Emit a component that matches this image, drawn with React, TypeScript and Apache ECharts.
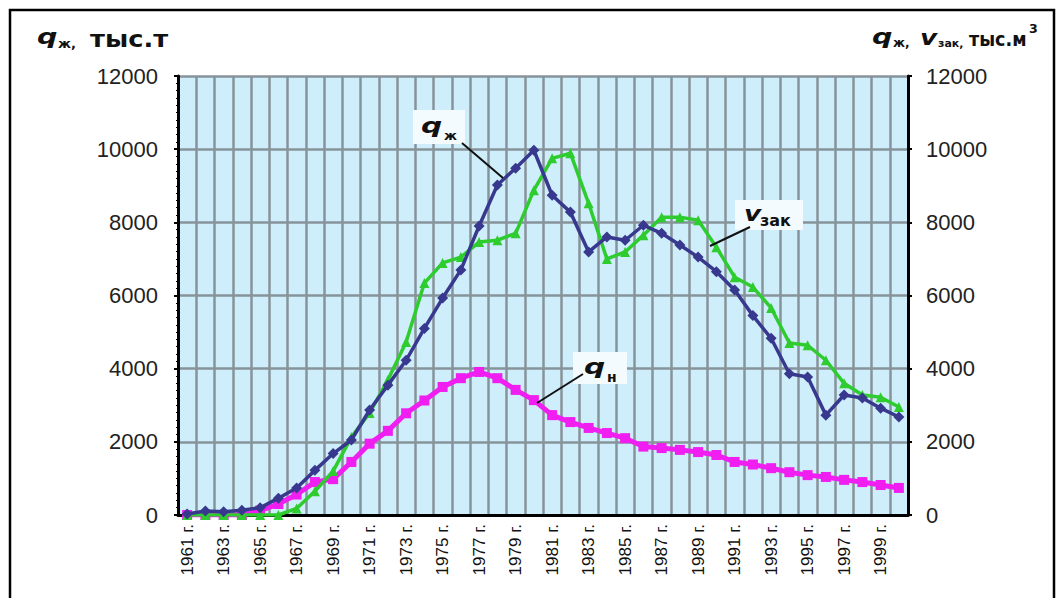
import React, { useEffect, useRef } from "react";
import * as echarts from "echarts";

// Years on the category axis
const years: string[] = [
  "1961 г.", "1962 г.", "1963 г.", "1964 г.", "1965 г.", "1966 г.", "1967 г.", "1968 г.",
  "1969 г.", "1970 г.", "1971 г.", "1972 г.", "1973 г.", "1974 г.", "1975 г.", "1976 г.",
  "1977 г.", "1978 г.", "1979 г.", "1980 г.", "1981 г.", "1982 г.", "1983 г.", "1984 г.",
  "1985 г.", "1986 г.", "1987 г.", "1988 г.", "1989 г.", "1990 г.", "1991 г.", "1992 г.",
  "1993 г.", "1994 г.", "1995 г.", "1996 г.", "1997 г.", "1998 г.", "1999 г.", "2000 г.",
];

// Liquid production, q_ж
const qZh: number[] = [
  30, 110, 90, 130, 200, 460, 740, 1220, 1680, 2050,
  2870, 3550, 4230, 5100, 5930, 6700, 7900, 9020, 9480, 9970,
  8740, 8280, 7190, 7600, 7510, 7920, 7700, 7380, 7050, 6650,
  6150, 5450, 4830, 3860, 3770, 2730, 3280, 3200, 2920, 2680,
];

// Water injection, v_зак
const vZak: number[] = [
  0, 0, 0, 0, 0, 0, 180, 650, 1200, 2130,
  2790, 3690, 4730, 6340, 6890, 7050, 7460, 7510, 7700, 8880,
  9750, 9890, 8520, 7000, 7190, 7650, 8140, 8140, 8060, 7320,
  6500, 6230, 5660, 4700, 4640, 4230, 3600, 3280, 3220, 2950,
];

// Oil production, q_н
const qN: number[] = [
  0, 0, 0, 0, 120, 300, 560, 900, 980, 1450,
  1950, 2300, 2780, 3130, 3500, 3740, 3910, 3740, 3420, 3140,
  2730, 2540, 2380, 2240, 2100, 1870, 1830, 1780, 1720, 1640,
  1450, 1380, 1280, 1170, 1090, 1040, 960, 900, 820, 740,
];

const yTicks = { min: 0, max: 12000, interval: 2000 };

const BLUE = "#38388e";
const GREEN = "#2ecc2e";
const MAGENTA = "#f01ef0";
const GRIDGRAY = "#87939a";
const AXIS_FONT = "Liberation Sans, Arial, sans-serif";
const TITLE_FONT = "DejaVu Sans, sans-serif";

type TxtOpts = { italic?: boolean; bold?: boolean; scaleX?: number };

// Text placed by its left edge and vertical centre
const txt = (x: number, y: number, text: string, size: number, o: TxtOpts = {}) => ({
  type: "text",
  x,
  y,
  scaleX: o.scaleX ?? 1,
  z: 100,
  style: {
    text,
    fill: "#111",
    fontSize: size,
    fontFamily: TITLE_FONT,
    fontWeight: o.bold === false ? "normal" : "bold",
    fontStyle: o.italic ? "italic" : "normal",
    align: "left",
    verticalAlign: "middle",
  },
});

const box = (x: number, y: number, w: number, h: number) => ({
  type: "rect",
  shape: { x, y, width: w, height: h },
  style: { fill: "#f4fbfe" },
  z: 90,
});

const leader = (x1: number, y1: number, x2: number, y2: number) => ({
  type: "line",
  shape: { x1, y1, x2, y2 },
  style: { stroke: "#111", lineWidth: 2 },
  z: 100,
});

function App() {
  const ref = useRef<HTMLDivElement>(null);

  useEffect(() => {
    if (!ref.current) return;
    const chart = echarts.init(ref.current, undefined, { renderer: "svg" });

    const yAxisBase = {
      type: "value" as const,
      min: yTicks.min,
      max: yTicks.max,
      interval: yTicks.interval,
      axisLine: { show: true, lineStyle: { color: "#000", width: 3 } },
      axisTick: { show: true, length: 4, lineStyle: { color: "#000", width: 2 } },
    };

    const option: echarts.EChartsOption = {
      animation: false,
      backgroundColor: "#ffffff",
      grid: {
        left: 178,
        right: 150,
        top: 76,
        bottom: 83,
        show: true,
        backgroundColor: "#cdeefa",
        borderWidth: 0,
      },
      xAxis: {
        type: "category",
        data: years,
        boundaryGap: true,
        axisLine: { lineStyle: { color: "#000", width: 3 } },
        axisTick: { show: false },
        splitLine: { show: true, interval: 0, lineStyle: { color: GRIDGRAY, width: 2.5 } },
        axisLabel: {
          interval: 1,
          rotate: 90,
          margin: 9,
          fontSize: 17,
          color: "#111",
          fontFamily: "Liberation Sans Narrow, Liberation Sans, Arial, sans-serif",
        },
      },
      yAxis: [
        {
          ...yAxisBase,
          position: "left",
          minorTick: { show: true, splitNumber: 10, length: 2, lineStyle: { color: "#000" } },
          splitLine: { show: true, lineStyle: { color: GRIDGRAY, width: 2.5 } },
          axisLabel: {
            margin: 20,
            fontSize: 22,
            color: "#222",
            fontFamily: AXIS_FONT,
            formatter: (v: number) => String(v),
          },
        },
        {
          ...yAxisBase,
          position: "right",
          splitLine: { show: false },
          axisLabel: {
            margin: 18,
            fontSize: 22,
            color: "#222",
            fontFamily: AXIS_FONT,
            formatter: (v: number) => String(v),
          },
        },
      ],
      series: [
        {
          name: "q_н",
          type: "line",
          data: qN,
          yAxisIndex: 0,
          symbol: "rect",
          symbolSize: 10,
          itemStyle: { color: MAGENTA },
          lineStyle: { color: MAGENTA, width: 5 },
          z: 3,
        },
        {
          name: "v_зак",
          type: "line",
          data: vZak,
          yAxisIndex: 1,
          symbol: "triangle",
          symbolSize: 10,
          itemStyle: { color: GREEN },
          lineStyle: { color: GREEN, width: 3.5 },
          z: 4,
        },
        {
          name: "q_ж",
          type: "line",
          data: qZh,
          yAxisIndex: 0,
          symbol: "diamond",
          symbolSize: 11,
          itemStyle: { color: BLUE },
          lineStyle: { color: BLUE, width: 3.5 },
          z: 5,
        },
      ],
      graphic: [
        // outer frame
        {
          type: "rect",
          shape: { x: 10, y: 10, width: 1044, height: 600 },
          style: { fill: "none", stroke: "#000", lineWidth: 2.5 },
          z: 50,
        },
        // left axis title: q_ж, тыс.т
        txt(37, 36, "q", 22, { italic: true, scaleX: 1.3 }),
        txt(58, 43, "ж,", 13),
        txt(90, 39, "тыс.т", 23, { scaleX: 1.12 }),
        // right axis title: q_ж, v_зак, тыс.м³
        txt(872, 36, "q", 22, { italic: true, scaleX: 1.3 }),
        txt(893, 43, "ж,", 12),
        txt(920, 37, "v", 22, { italic: true, scaleX: 1.2 }),
        txt(938, 43, "зак,", 11),
        txt(969, 39, "тыс.м", 20, { scaleX: 0.88 }),
        txt(1029, 29, "3", 12, { scaleX: 1.05 }),
        // q_ж series label
        box(413, 110, 52, 34),
        txt(421, 125, "q", 22, { italic: true, scaleX: 1.35 }),
        txt(444, 135, "ж", 13),
        leader(462, 143, 503, 178),
        // v_зак series label
        box(735, 200, 68, 30),
        txt(744, 213, "v", 22, { italic: true, scaleX: 1.2 }),
        txt(760, 220, "зак", 16),
        leader(750, 227, 710, 246),
        // q_н series label
        box(573, 352, 54, 32),
        txt(584, 366, "q", 22, { italic: true, scaleX: 1.35 }),
        txt(607, 377, "н", 14),
        leader(583, 374, 537, 403),
      ],
    };

    chart.setOption(option);
    return () => chart.dispose();
  }, []);

  return (
    <div
      ref={ref}
      style={{ position: "fixed", left: 0, top: 0, width: 1058, height: 598, background: "#fff" }}
    />
  );
}

export default App;
